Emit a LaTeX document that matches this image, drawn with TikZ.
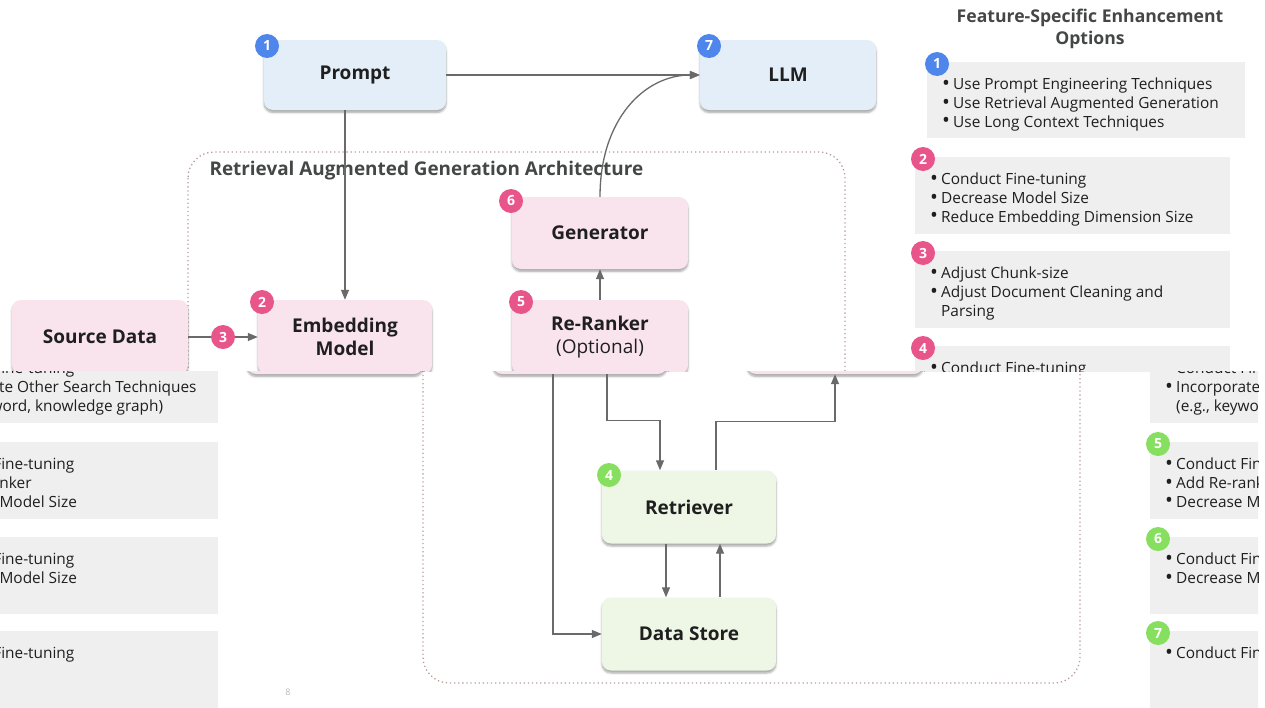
\documentclass[tikz,border=0pt]{standalone}
\usepackage{fontspec}
\setmainfont{Open Sans}
\usetikzlibrary{arrows.meta,shadows.blur,calc}

\definecolor{slidegray}{HTML}{444746}
\definecolor{inkblack}{HTML}{1F1F1F}
\definecolor{wire}{HTML}{6A6A6A}
\definecolor{promptblue}{HTML}{E4EEF9}
\definecolor{badgeblue}{HTML}{4F86EC}
\definecolor{ragpink}{HTML}{F9E4EE}
\definecolor{badgepink}{HTML}{E8558A}
\definecolor{storegreen}{HTML}{EEF6E6}
\definecolor{badgegreen}{HTML}{86DF5E}
\definecolor{optgray}{HTML}{EFEFEF}
\definecolor{framedots}{HTML}{B89C9C}

\tikzset{
  block/.style={rounded corners=9pt, minimum height=74pt, align=center, text=inkblack,
    font=\fontsize{19}{23}\selectfont\bfseries,
    blur shadow={shadow xshift=0pt, shadow yshift=-2.5pt, shadow blur steps=5, shadow opacity=35}},
  blue block/.style={block, fill=promptblue, minimum width=182pt, minimum height=70pt},
  pink block/.style={block, fill=ragpink, minimum width=176pt},
  green block/.style={block, fill=storegreen, minimum width=174pt},
  badge/.style={circle, fill=#1, text=white, inner sep=0pt, minimum size=24pt,
    font=\fontsize{14}{14}\selectfont\bfseries},
  flow/.style={draw=wire, line width=1.3pt, -{Triangle[length=10pt,width=8pt]}},
  ragframe/.style={framedots, line width=1.3pt, dash pattern=on 1.3pt off 2.8pt, rounded corners=26pt},
  optbox/.style={fill=optgray, anchor=north west, minimum width=315pt, minimum height=77pt, inner sep=0pt},
  optlist/.style={anchor=north west, align=left, inner sep=0pt, text=inkblack,
    font=\fontsize{15.4}{18.7}\selectfont},
}
\newcommand{\optitem}[1]{\makebox[11pt][l]{\raisebox{-0.5pt}{\fontsize{21}{0}\selectfont\textbullet}}#1}
\newcommand{\optcont}[1]{\hspace*{11pt}#1}

% one grey box of the options column: number, top, badge colour, items
\newcommand{\optionbox}[4]{%
  \node[optbox] (opt#1) at (915,#2) {};
  \node[optlist] (opt#1-list) at (930,#2+16) {#4};
  \node[badge=#3] (opt#1-no) at (923,#2+2) {#1};
}
\newcommand{\optfour}{\optionbox{4}{346}{badgepink}{\optitem{Conduct Fine-tuning}\\
  \optitem{Incorporate Other Search Techniques}\\\optcont{(e.g., keyword, knowledge graph)}}}
\newcommand{\optlower}{%
  \optfour
  \optionbox{5}{442}{badgegreen}{\optitem{Conduct Fine-tuning}\\\optitem{Add Re-ranker}\\
    \optitem{Decrease Model Size}}
  \optionbox{6}{537}{badgegreen}{\optitem{Conduct Fine-tuning}\\\optitem{Decrease Model Size}}
  \optionbox{7}{631}{badgegreen}{\optitem{Conduct Fine-tuning}}
}

\begin{document}
\begin{tikzpicture}[x=1pt, y=-1pt]
  \useasboundingbox (0,0) rectangle (1265,707);
  % ---- upper band ----
  \begin{scope}
    \clip (0,0) rectangle (1265,371);
    % RAG frame
    \draw[ragframe] (188,152) rectangle (845,683);
    \node[anchor=west, text=slidegray, font=\fontsize{18.9}{22}\selectfont\bfseries] (ragtitle)
      at (206,171) {Retrieval Augmented Generation Architecture};
    % top row
    \node[blue block] (prompt) at (355,75) {Prompt};
    \node[blue block, minimum width=176pt] (llm) at (788,75) {LLM};
    \node[badge=badgeblue] (prompt-no) at (267,46) {1};
    \node[badge=badgeblue] (llm-no) at (709,46) {7};
    % pipeline
    \node[pink block] (source) at (100,337) {Source Data};
    \node[pink block, minimum width=174pt] (embed) at (345,337) {Embedding\\Model};
    \node[pink block] (rerank) at (600,337) {Re-Ranker\\{\mdseries (Optional)}};
    \node[pink block, minimum height=72pt] (gen) at (600,233) {Generator};
    \node[badge=badgepink] (embed-no) at (262,302) {2};
    \node[badge=badgepink] (rerank-no) at (521,302) {5};
    \node[badge=badgepink] (gen-no) at (511,201) {6};
    \draw[flow] (prompt) -- (llm);
    \draw[flow] (embed.north |- prompt.south) -- (embed.north);
    \draw[flow] (source) -- (embed);
    \node[badge=badgepink] (source-no) at ($(source.east)!0.5!(embed.west)$) {3};
    \draw[flow] (rerank) -- (gen);
    \draw[flow] (gen.north) .. controls +(0,-78) and +(-55,0) .. (llm.west);
    % enhancement options
    \node[align=center, text=slidegray, font=\fontsize{17.6}{22}\selectfont\bfseries] (opttitle)
      at (1090,28.5) {Feature-Specific Enhancement\\Options};
    \node[optbox, minimum width=318pt, minimum height=76pt] (opt1) at (927,62) {};
    \node[optlist] (opt1-list) at (942,78) {\optitem{Use Prompt Engineering Techniques}\\
      \optitem{Use Retrieval Augmented Generation}\\\optitem{Use Long Context Techniques}};
    \node[badge=badgeblue] (opt1-no) at (937,64) {1};
    \optionbox{2}{157}{badgepink}{\optitem{Conduct Fine-tuning}\\\optitem{Decrease Model Size}\\
      \optitem{Reduce Embedding Dimension Size}}
    \optionbox{3}{251}{badgepink}{\optitem{Adjust Chunk-size}\\\optitem{Adjust Document Cleaning and}\\
      \optcont{Parsing}}
    \optfour
  \end{scope}
  % ---- lower band, slipped sideways and wrapped ----
  \begin{scope}
    \clip (0,371) rectangle (1258,707);
    \begin{scope}[xshift=235pt]
      \draw[ragframe] (188,152) rectangle (845,683);
      % feet of the pipeline boxes
      \node[pink block] (source) at (100,337) {};
      \node[pink block, minimum width=174pt] (embed) at (345,337) {};
      \node[pink block] (rerank) at (600,337) {};
      % retrieval side
      \node[green block, minimum height=73pt] (retr) at (454,507) {Retriever};
      \node[green block, minimum height=73pt] (store) at (454,634) {Data Store};
      \node[badge=badgegreen] (retr-no) at (374,475) {4};
      \draw[flow] ([xshift=-27pt]embed.south) |- (store.west);
      \draw[flow] ([xshift=27pt]embed.south) -- ++(0,46) -| ([xshift=-29pt]retr.north);
      \draw[flow] ([xshift=27pt]retr.north) -- ++(0,-49) -| (rerank.south);
      \draw[flow] ([xshift=-23pt]retr.south) -- ([xshift=-23pt]store.north);
      \draw[flow] ([xshift=31pt]store.north) -- ([xshift=31pt]retr.south);
      \node[text=gray!55, font=\fontsize{9}{9}\selectfont] (pageno) at (53,692) {8};
      \optlower
    \end{scope}
    \begin{scope}[xshift=-1012pt]
      \optlower
    \end{scope}
  \end{scope}
\end{tikzpicture}
\end{document}
